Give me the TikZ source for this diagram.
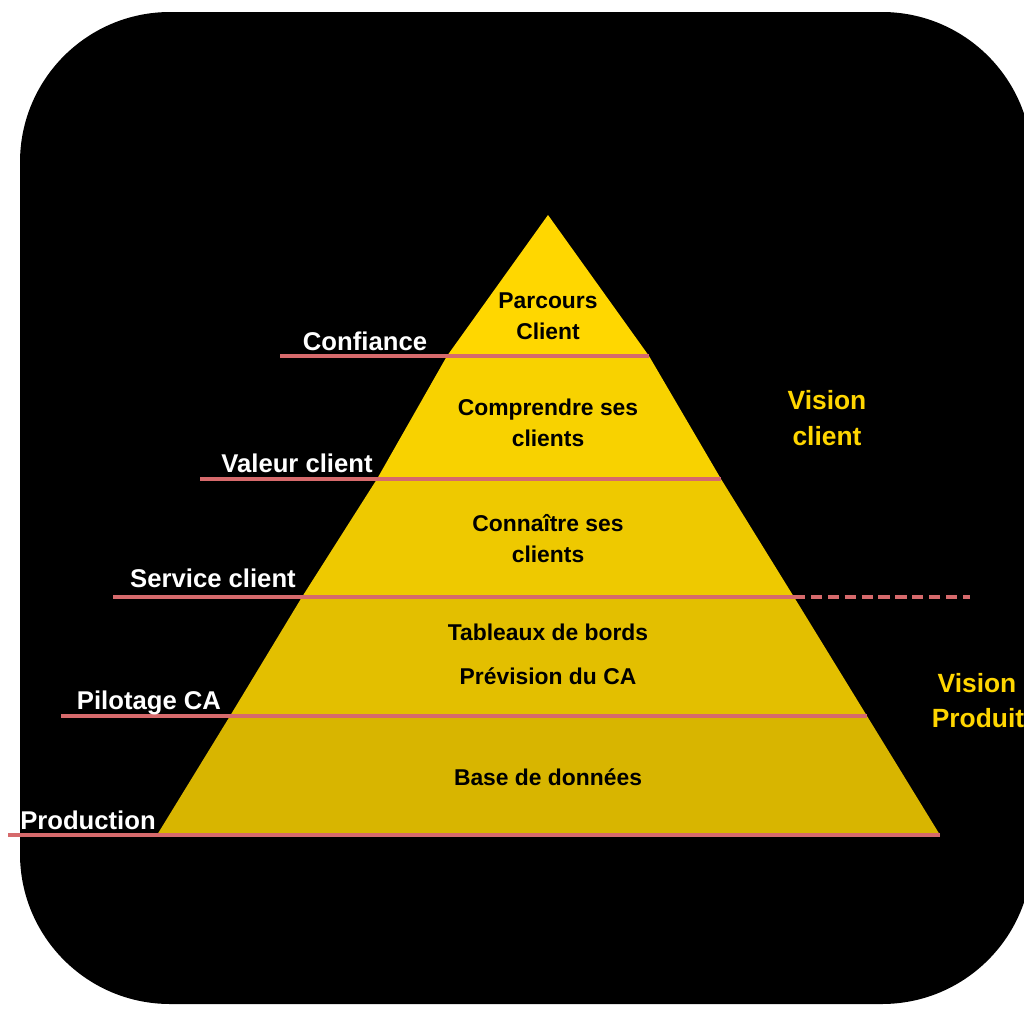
\documentclass[tikz,border=0pt]{standalone}
\usepackage{fontspec}
\setmainfont{Liberation Sans}

\definecolor{fond}{RGB}{0,0,0}
\definecolor{rose}{RGB}{214,106,108}
\definecolor{jaune}{RGB}{255,214,0}
\definecolor{etageA}{RGB}{255,215,0}
\definecolor{etageB}{RGB}{248,210,0}
\definecolor{etageC}{RGB}{238,201,0}
\definecolor{etageD}{RGB}{227,191,0}
\definecolor{etageE}{RGB}{216,181,0}

\tikzset{
  trait/.style={draw=rose, line width=1.15pt},
  pointille/.style={trait, dash pattern=on 3.2pt off 1.6pt},
  etage/.style={anchor=base, text=black, font=\fontsize{6.5}{8}\selectfont\bfseries},
  repere/.style={anchor=base, text=white, font=\fontsize{7.3}{9}\selectfont\bfseries},
  vision/.style={anchor=base, text=jaune, font=\fontsize{7.5}{9}\selectfont\bfseries}
}

\begin{document}
\begin{tikzpicture}[x=0.01cm, y=-0.01cm]

    \useasboundingbox (0,0) rectangle (1024,1024);

    % === fond ===
    \fill[fond, rounded corners=1.5cm] (20,12) rectangle (1032,1004);

    % === sommets de la pyramide ===
    \coordinate (S) at (548,215);
    \coordinate (L1) at (447,356);
    \coordinate (R1) at (649,356);
    \coordinate (L2) at (377,479);
    \coordinate (R2) at (721,479);
    \coordinate (L3) at (302,597);
    \coordinate (R3) at (794,597);
    \coordinate (L4) at (230,716);
    \coordinate (R4) at (867,716);
    \coordinate (L5) at (157,835);
    \coordinate (R5) at (940,835);

    % === extremites des traits ===
    \coordinate (T1) at (280,356);
    \coordinate (T2) at (200,479);
    \coordinate (T3) at (113,597);
    \coordinate (T3d) at (970,597);
    \coordinate (T4) at (61,716);
    \coordinate (T5) at (8,835);

    % === etages ===
    \fill[etageA] (S) -- (R1) -- (L1) -- cycle;
    \fill[etageB] (L1) -- (R1) -- (R2) -- (L2) -- cycle;
    \fill[etageC] (L2) -- (R2) -- (R3) -- (L3) -- cycle;
    \fill[etageD] (L3) -- (R3) -- (R4) -- (L4) -- cycle;
    \fill[etageE] (L4) -- (R4) -- (R5) -- (L5) -- cycle;

    % === traits ===
    \draw[trait] (T1) -- (R1);
    \draw[trait] (T2) -- (R2);
    \draw[trait] (T3) -- (R3);
    \draw[pointille] (R3) -- (T3d);
    \draw[trait] (T4) -- (R4);
    \draw[trait] (T5) -- (R5);

    % === textes des etages ===
    \node[etage] (parcours) at (548,308) {Parcours};
    \node[etage] (parcoursb) at (548,339) {Client};
    \node[etage] (comprendre) at (548,415) {Comprendre ses};
    \node[etage] (comprendreb) at (548,446) {clients};
    \node[etage] (connaitre) at (548,531) {Connaître ses};
    \node[etage] (connaitreb) at (548,562) {clients};
    \node[etage] (tableaux) at (548,640) {Tableaux de bords};
    \node[etage] (prevision) at (548,684) {Prévision du CA};
    \node[etage] (base) at (548,785) {Base de données};

    % === reperes a gauche ===
    \node[repere] (confiance) at (365,350) {Confiance};
    \node[repere] (valeur) at (297,472) {Valeur client};
    \node[repere] (service) at (213,587) {Service client};
    \node[repere] (pilotage) at (149,709) {Pilotage CA};
    \node[repere] (production) at (88,829) {Production};

    % === visions ===
    \node[vision] (visionc) at (827,409) {Vision};
    \node[vision] (visioncb) at (827,445) {client};
    \node[vision] (visionp) at (977,692) {Vision};
    \node[vision] (visionpb) at (978,727) {Produit};

\end{tikzpicture}
\end{document}
